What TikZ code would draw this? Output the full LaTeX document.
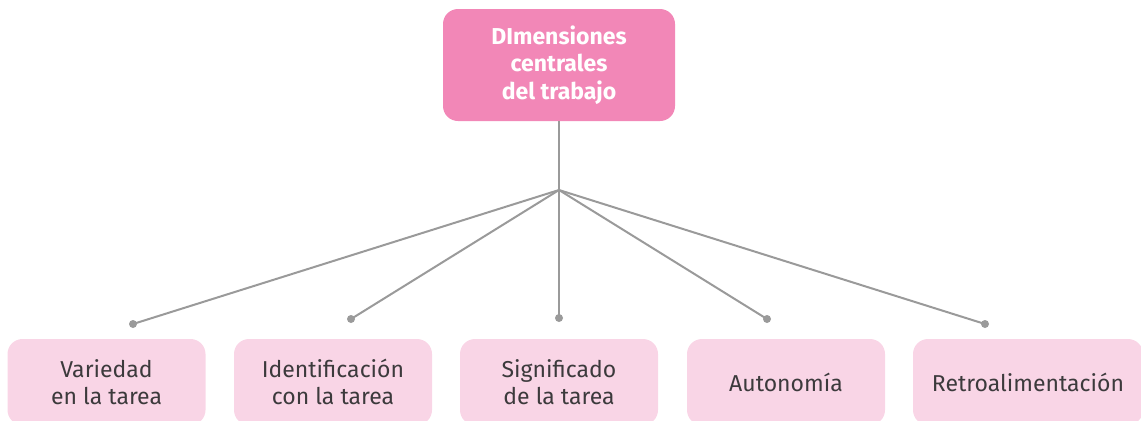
\documentclass[tikz,border=0pt]{standalone}
\usepackage{fontspec}
\setmainfont{Fira Sans}
\definecolor{rosa}{HTML}{F287B7}
\definecolor{rosaclaro}{HTML}{F9D5E6}
\definecolor{linea}{HTML}{9A9A9A}
\definecolor{texto}{HTML}{3C3A3C}

\begin{document}
\begin{tikzpicture}[x=0.5pt, y=-0.5pt,
  main/.style={rectangle, rounded corners=7.5pt, fill=rosa, text=white,
               minimum width=116pt, minimum height=56pt, align=center,
               font=\fontsize{11.5}{13.7}\selectfont\bfseries},
  dim/.style={rectangle, rounded corners=7.5pt, fill=rosaclaro, text=texto,
              minimum width=99pt, minimum height=43pt, align=center,
              font=\fontsize{11.5}{13.5}\selectfont},
  conn/.style={line width=1pt, linea},
  dot/.style={circle, fill=linea, inner sep=0pt, minimum size=4pt}
]
  \clip (0,0) rectangle (1141,420);
  \node[main] (top) at (559,65) {DImensiones\\centrales\\del trabajo};
  \node[dim] (b1) at (106.5,382) {Variedad\\en la tarea};
  \node[dim] (b2) at (333,382) {Identificación\\con la tarea};
  \node[dim] (b3) at (559,382) {Significado\\de la tarea};
  \node[dim] (b4) at (786,382) {Autonomía};
  \node[dim, minimum width=115pt] (b5) at (1028,382) {Retroalimentación};
  \coordinate (hub) at (559,190);
  \coordinate (d1) at (133,324);
  \coordinate (d2) at (351,319);
  \coordinate (d3) at (559,318);
  \coordinate (d4) at (767,319);
  \coordinate (d5) at (985,324);
  \draw[conn] (top.south) -- (hub);
  \foreach \i in {1,...,5} {
    \draw[conn] (hub) -- (d\i);
    \node[dot] at (d\i) {};
  }
\end{tikzpicture}
\end{document}
